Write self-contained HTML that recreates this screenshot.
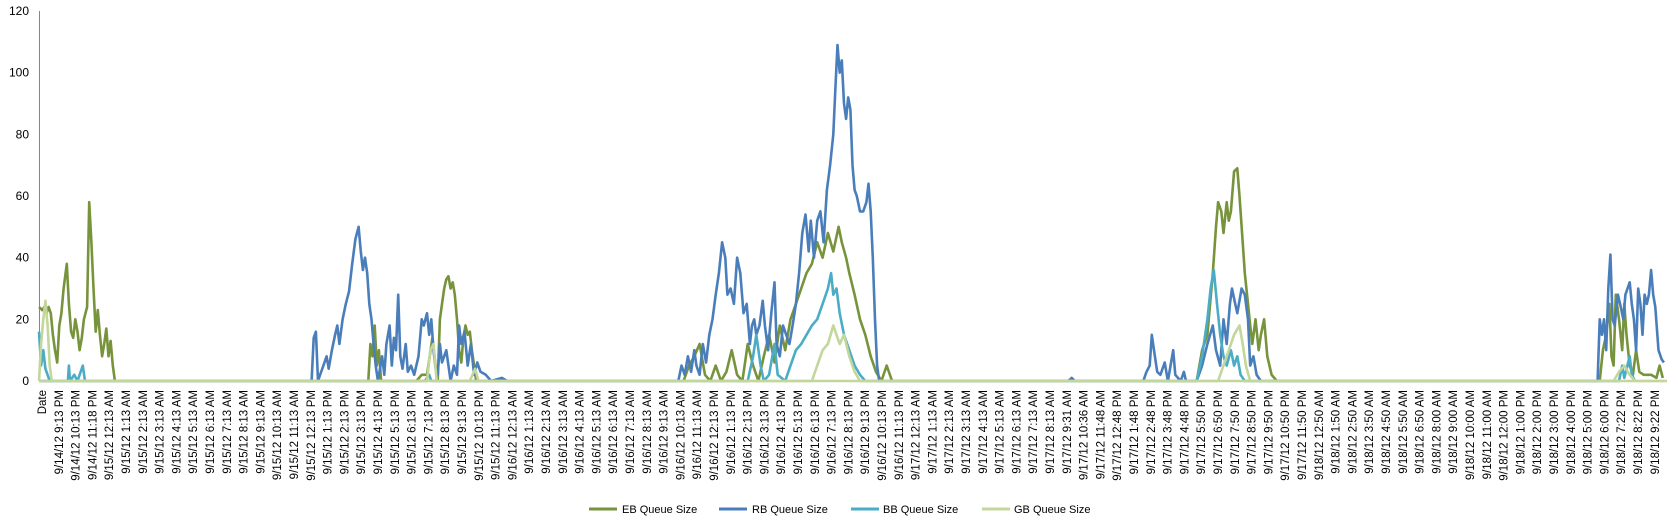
<!DOCTYPE html>
<html><head><meta charset="utf-8"><style>
html,body{margin:0;padding:0;background:#fff;}
svg{display:block;font-family:"Liberation Sans",Arial,sans-serif;}
.xl text{font-size:11.5px;fill:#000;}
</style></head><body>
<svg id="s" width="1678" height="527" viewBox="0 0 1678 527" xmlns="http://www.w3.org/2000/svg">
<g font-size="12" fill="#000" text-anchor="end">
<text x="29" y="385">0</text><text x="29" y="323.3">20</text><text x="29" y="261.7">40</text><text x="29" y="200">60</text><text x="29" y="138.3">80</text><text x="29" y="76.7">100</text><text x="29" y="15">120</text>
</g>
<line x1="39.5" y1="11" x2="39.5" y2="381" stroke="#868686" stroke-width="1"/>
<line x1="39" y1="381" x2="1667" y2="381" stroke="#868686" stroke-width="1"/>
<g id="series" fill="none" stroke-width="2.6" stroke-linejoin="round"></g>
<g class="xl" text-anchor="end">
<text transform="translate(46,390) rotate(-90)">Date</text>
<text transform="translate(62.8,390) rotate(-90)">9/14/12 9:13 PM</text>
<text transform="translate(79.6,390) rotate(-90)">9/14/12 10:13 PM</text>
<text transform="translate(96.4,390) rotate(-90)">9/14/12 11:18 PM</text>
<text transform="translate(113.2,390) rotate(-90)">9/15/12 12:13 AM</text>
<text transform="translate(130,390) rotate(-90)">9/15/12 1:13 AM</text>
<text transform="translate(146.8,390) rotate(-90)">9/15/12 2:13 AM</text>
<text transform="translate(163.6,390) rotate(-90)">9/15/12 3:13 AM</text>
<text transform="translate(180.4,390) rotate(-90)">9/15/12 4:13 AM</text>
<text transform="translate(197.2,390) rotate(-90)">9/15/12 5:13 AM</text>
<text transform="translate(214,390) rotate(-90)">9/15/12 6:13 AM</text>
<text transform="translate(230.8,390) rotate(-90)">9/15/12 7:13 AM</text>
<text transform="translate(247.6,390) rotate(-90)">9/15/12 8:13 AM</text>
<text transform="translate(264.4,390) rotate(-90)">9/15/12 9:13 AM</text>
<text transform="translate(281.2,390) rotate(-90)">9/15/12 10:13 AM</text>
<text transform="translate(298,390) rotate(-90)">9/15/12 11:13 AM</text>
<text transform="translate(314.8,390) rotate(-90)">9/15/12 12:13 PM</text>
<text transform="translate(331.6,390) rotate(-90)">9/15/12 1:13 PM</text>
<text transform="translate(348.4,390) rotate(-90)">9/15/12 2:13 PM</text>
<text transform="translate(365.2,390) rotate(-90)">9/15/12 3:13 PM</text>
<text transform="translate(382,390) rotate(-90)">9/15/12 4:13 PM</text>
<text transform="translate(398.8,390) rotate(-90)">9/15/12 5:13 PM</text>
<text transform="translate(415.6,390) rotate(-90)">9/15/12 6:13 PM</text>
<text transform="translate(432.4,390) rotate(-90)">9/15/12 7:13 PM</text>
<text transform="translate(449.2,390) rotate(-90)">9/15/12 8:13 PM</text>
<text transform="translate(466,390) rotate(-90)">9/15/12 9:13 PM</text>
<text transform="translate(482.8,390) rotate(-90)">9/15/12 10:13 PM</text>
<text transform="translate(499.6,390) rotate(-90)">9/15/12 11:13 PM</text>
<text transform="translate(516.4,390) rotate(-90)">9/16/12 12:13 AM</text>
<text transform="translate(533.2,390) rotate(-90)">9/16/12 1:13 AM</text>
<text transform="translate(550,390) rotate(-90)">9/16/12 2:13 AM</text>
<text transform="translate(566.8,390) rotate(-90)">9/16/12 3:13 AM</text>
<text transform="translate(583.6,390) rotate(-90)">9/16/12 4:13 AM</text>
<text transform="translate(600.4,390) rotate(-90)">9/16/12 5:13 AM</text>
<text transform="translate(617.2,390) rotate(-90)">9/16/12 6:13 AM</text>
<text transform="translate(634,390) rotate(-90)">9/16/12 7:13 AM</text>
<text transform="translate(650.8,390) rotate(-90)">9/16/12 8:13 AM</text>
<text transform="translate(667.6,390) rotate(-90)">9/16/12 9:13 AM</text>
<text transform="translate(684.4,390) rotate(-90)">9/16/12 10:13 AM</text>
<text transform="translate(701.2,390) rotate(-90)">9/16/12 11:13 AM</text>
<text transform="translate(718,390) rotate(-90)">9/16/12 12:13 PM</text>
<text transform="translate(734.8,390) rotate(-90)">9/16/12 1:13 PM</text>
<text transform="translate(751.6,390) rotate(-90)">9/16/12 2:13 PM</text>
<text transform="translate(768.4,390) rotate(-90)">9/16/12 3:13 PM</text>
<text transform="translate(785.2,390) rotate(-90)">9/16/12 4:13 PM</text>
<text transform="translate(802,390) rotate(-90)">9/16/12 5:13 PM</text>
<text transform="translate(818.8,390) rotate(-90)">9/16/12 6:13 PM</text>
<text transform="translate(835.6,390) rotate(-90)">9/16/12 7:13 PM</text>
<text transform="translate(852.4,390) rotate(-90)">9/16/12 8:13 PM</text>
<text transform="translate(869.2,390) rotate(-90)">9/16/12 9:13 PM</text>
<text transform="translate(886,390) rotate(-90)">9/16/12 10:13 PM</text>
<text transform="translate(902.8,390) rotate(-90)">9/16/12 11:13 PM</text>
<text transform="translate(919.6,390) rotate(-90)">9/17/12 12:13 AM</text>
<text transform="translate(936.4,390) rotate(-90)">9/17/12 1:13 AM</text>
<text transform="translate(953.2,390) rotate(-90)">9/17/12 2:13 AM</text>
<text transform="translate(970,390) rotate(-90)">9/17/12 3:13 AM</text>
<text transform="translate(986.8,390) rotate(-90)">9/17/12 4:13 AM</text>
<text transform="translate(1003.6,390) rotate(-90)">9/17/12 5:13 AM</text>
<text transform="translate(1020.4,390) rotate(-90)">9/17/12 6:13 AM</text>
<text transform="translate(1037.2,390) rotate(-90)">9/17/12 7:13 AM</text>
<text transform="translate(1054,390) rotate(-90)">9/17/12 8:13 AM</text>
<text transform="translate(1070.8,390) rotate(-90)">9/17/12 9:31 AM</text>
<text transform="translate(1087.6,390) rotate(-90)">9/17/12 10:36 AM</text>
<text transform="translate(1104.4,390) rotate(-90)">9/17/12 11:48 AM</text>
<text transform="translate(1121.2,390) rotate(-90)">9/17/12 12:48 PM</text>
<text transform="translate(1138,390) rotate(-90)">9/17/12 1:48 PM</text>
<text transform="translate(1154.8,390) rotate(-90)">9/17/12 2:48 PM</text>
<text transform="translate(1171.6,390) rotate(-90)">9/17/12 3:48 PM</text>
<text transform="translate(1188.4,390) rotate(-90)">9/17/12 4:48 PM</text>
<text transform="translate(1205.2,390) rotate(-90)">9/17/12 5:50 PM</text>
<text transform="translate(1222,390) rotate(-90)">9/17/12 6:50 PM</text>
<text transform="translate(1238.8,390) rotate(-90)">9/17/12 7:50 PM</text>
<text transform="translate(1255.6,390) rotate(-90)">9/17/12 8:50 PM</text>
<text transform="translate(1272.4,390) rotate(-90)">9/17/12 9:50 PM</text>
<text transform="translate(1289.2,390) rotate(-90)">9/17/12 10:50 PM</text>
<text transform="translate(1306,390) rotate(-90)">9/17/12 11:50 PM</text>
<text transform="translate(1322.8,390) rotate(-90)">9/18/12 12:50 AM</text>
<text transform="translate(1339.6,390) rotate(-90)">9/18/12 1:50 AM</text>
<text transform="translate(1356.4,390) rotate(-90)">9/18/12 2:50 AM</text>
<text transform="translate(1373.2,390) rotate(-90)">9/18/12 3:50 AM</text>
<text transform="translate(1390,390) rotate(-90)">9/18/12 4:50 AM</text>
<text transform="translate(1406.8,390) rotate(-90)">9/18/12 5:50 AM</text>
<text transform="translate(1423.6,390) rotate(-90)">9/18/12 6:50 AM</text>
<text transform="translate(1440.4,390) rotate(-90)">9/18/12 8:00 AM</text>
<text transform="translate(1457.2,390) rotate(-90)">9/18/12 9:00 AM</text>
<text transform="translate(1474,390) rotate(-90)">9/18/12 10:00 AM</text>
<text transform="translate(1490.8,390) rotate(-90)">9/18/12 11:00 AM</text>
<text transform="translate(1507.6,390) rotate(-90)">9/18/12 12:00 PM</text>
<text transform="translate(1524.4,390) rotate(-90)">9/18/12 1:00 PM</text>
<text transform="translate(1541.2,390) rotate(-90)">9/18/12 2:00 PM</text>
<text transform="translate(1558,390) rotate(-90)">9/18/12 3:00 PM</text>
<text transform="translate(1574.8,390) rotate(-90)">9/18/12 4:00 PM</text>
<text transform="translate(1591.6,390) rotate(-90)">9/18/12 5:00 PM</text>
<text transform="translate(1608.4,390) rotate(-90)">9/18/12 6:00 PM</text>
<text transform="translate(1625.2,390) rotate(-90)">9/18/12 7:22 PM</text>
<text transform="translate(1642,390) rotate(-90)">9/18/12 8:22 PM</text>
<text transform="translate(1658.8,390) rotate(-90)">9/18/12 9:22 PM</text>
</g>
<g font-size="11" fill="#000">
<line x1="589" y1="509" x2="617" y2="509" stroke="#77933c" stroke-width="3"/><text x="622" y="513">EB Queue Size</text>
<line x1="719" y1="509" x2="747" y2="509" stroke="#4a7ebb" stroke-width="3"/><text x="752" y="513">RB Queue Size</text>
<line x1="851" y1="509" x2="879" y2="509" stroke="#4bacc6" stroke-width="3"/><text x="883" y="513">BB Queue Size</text>
<line x1="982" y1="509" x2="1010" y2="509" stroke="#c3d69b" stroke-width="3"/><text x="1014" y="513">GB Queue Size</text>
</g>
</svg>
<script>
var D={
eb:["#77933c",[37,24,40,23,42,24,44,22,46,24,48,22,50,15,52,10,54,6,56,18,58,22,60,30,63,38,65,25,67,16,69,14,71,20,73,16,75,10,77,14,79,20,82,24,84,58,86,45,88,30,90,16,92,23,94,15,96,8,98,12,100,17,102,8,104,13,106,5,108,0,345,0,347,12,349,8,351,18,353,5,355,10,357,0,390,0,395,2,400,2,405,14,408,5,410,0,412,20,414,25,416,30,418,33,420,34,422,30,424,32,426,28,428,20,430,10,432,6,434,14,436,18,438,15,440,16,442,10,444,5,446,0,640,0,645,5,650,8,655,12,660,2,665,0,670,5,675,0,680,3,685,10,690,2,695,0,700,12,705,5,710,0,715,8,720,15,725,6,730,18,735,10,740,20,745,25,750,30,755,35,760,38,765,45,770,40,775,48,780,42,785,50,788,45,792,40,795,35,800,28,805,20,810,15,815,8,820,3,825,0,830,5,835,0,1120,0,1125,10,1130,15,1135,35,1138,50,1140,58,1143,55,1145,48,1148,58,1150,52,1152,55,1155,68,1158,69,1160,60,1163,45,1165,35,1168,25,1170,18,1172,12,1175,20,1178,10,1180,15,1183,20,1186,8,1190,2,1195,0,1497,0,1500,10,1503,15,1506,25,1508,8,1510,5,1512,28,1515,20,1518,10,1520,25,1522,15,1525,5,1528,2,1531,10,1534,3,1538,2,1545,2,1550,1,1553,5,1556,1]],
rb:["#4a7ebb",[37,0,50,0,52,0,292,0,294,14,296,16,298,0,300,2,303,5,306,8,308,4,311,10,314,15,316,18,318,12,321,20,324,25,327,29,330,38,333,46,336,50,338,42,340,36,342,40,344,35,346,25,348,20,350,12,352,5,354,0,358,8,360,2,362,12,365,18,367,5,369,14,371,10,373,28,375,8,377,4,380,12,382,3,385,5,388,2,392,8,395,20,397,18,400,22,402,15,404,20,406,10,408,4,410,2,412,12,414,6,418,10,422,0,425,5,428,2,430,18,432,12,435,16,438,5,441,12,444,2,447,6,450,3,455,2,460,0,470,1,475,0,635,0,638,5,641,2,644,8,647,3,650,10,652,5,655,2,658,12,661,6,664,15,667,20,670,28,673,35,676,45,679,40,681,28,684,30,687,25,690,40,693,35,696,22,699,25,702,12,704,18,706,20,708,15,711,18,714,26,716,18,719,10,722,22,725,32,727,12,730,8,733,18,736,15,739,12,742,18,745,25,748,35,751,48,754,54,757,42,759,52,762,40,765,52,768,55,771,45,774,62,777,70,780,80,782,95,784,109,786,100,788,104,790,90,792,85,794,92,796,88,798,70,800,62,802,60,805,55,808,55,811,58,813,64,815,55,817,40,819,20,821,5,823,0,1000,0,1003,1,1006,0,1070,0,1073,3,1076,5,1078,15,1080,10,1083,3,1086,2,1090,6,1093,0,1098,10,1100,2,1105,0,1108,3,1110,0,1120,0,1125,5,1130,12,1135,18,1138,10,1142,5,1145,20,1148,12,1151,25,1153,30,1156,25,1158,22,1162,30,1165,28,1168,20,1170,5,1173,8,1176,2,1180,0,1495,0,1497,20,1499,15,1501,20,1503,10,1505,30,1507,41,1509,20,1511,18,1514,28,1516,25,1519,20,1521,28,1523,30,1525,32,1527,25,1529,20,1531,10,1533,30,1535,25,1537,15,1539,28,1541,25,1543,28,1545,36,1547,28,1549,24,1552,10,1555,7,1557,6]],
bb:["#4bacc6",[37,16,39,5,41,10,43,4,45,2,47,0,64,0,65,5,66,0,70,2,73,0,78,5,80,0,398,0,402,2,404,0,700,0,705,8,708,15,712,5,715,0,720,2,725,12,728,2,735,0,740,5,745,10,750,12,755,15,760,18,765,20,770,25,775,30,778,35,780,28,783,30,786,22,790,15,795,10,800,5,805,2,810,0,1120,0,1125,8,1130,20,1133,30,1136,36,1139,25,1142,15,1145,8,1148,5,1152,10,1155,5,1158,8,1161,2,1165,0,1515,0,1518,5,1520,1,1525,8,1527,2,1530,0]],
gb:["#c3d69b",[37,0,39,12,41,20,43,26,45,18,47,5,49,0,400,0,403,10,406,12,409,0,440,0,445,4,448,0,760,0,765,5,770,10,775,12,780,18,783,15,786,12,790,15,795,8,800,3,805,0,1140,0,1150,10,1155,15,1160,18,1163,12,1166,5,1170,0,1510,0,1515,3,1520,5,1525,2,1530,0,1558,0]]
};
var g=document.getElementById('series'),ns="http://www.w3.org/2000/svg";
["eb","rb","bb","gb"].forEach(function(k){
 var c=D[k][0],a=D[k][1],d="";
 for(var i=0;i<a.length;i+=2){
  var x=39+(a[i]-37)*1.069,y=381-a[i+1]*3.083;
  d+=(i?"L":"M")+x.toFixed(1)+" "+y.toFixed(1);
 }
 var p=document.createElementNS(ns,"path");p.setAttribute("d",d);p.setAttribute("stroke",c);g.appendChild(p);
});
var b=document.createElementNS(ns,"line");
b.setAttribute("x1","39");b.setAttribute("x2","1667");b.setAttribute("y1","381");b.setAttribute("y2","381");
b.setAttribute("stroke","#c3d69b");b.setAttribute("stroke-width","2.6");g.insertBefore(b,g.lastChild);
</script>
</body></html>
